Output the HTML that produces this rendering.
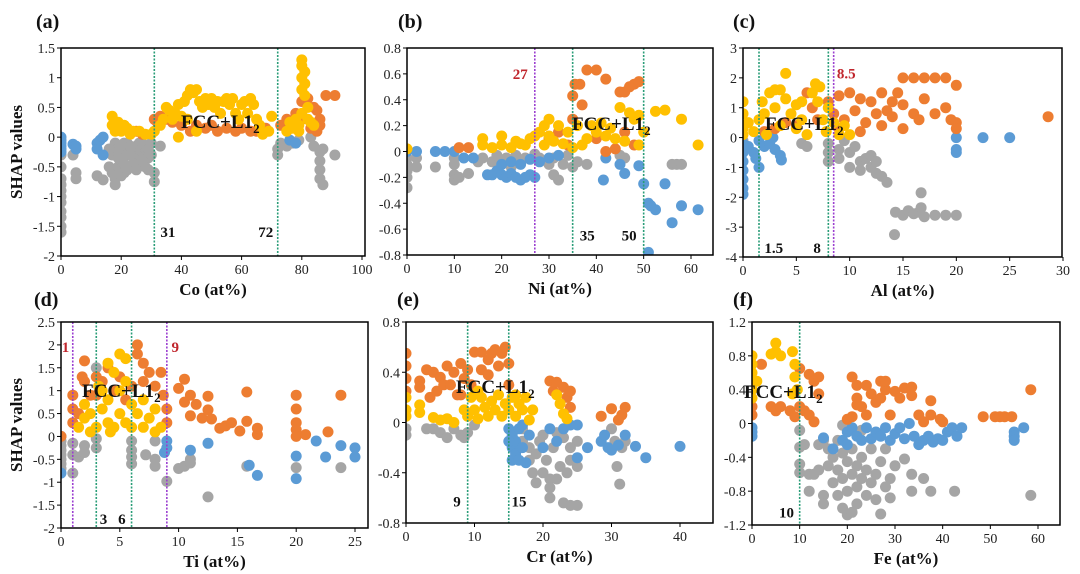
<!DOCTYPE html>
<html><head><meta charset="utf-8"><style>
html,body{margin:0;padding:0;background:#fff;}
svg{display:block;font-family:"Liberation Serif",serif;}
</style></head><body>
<svg id="fig" width="1080" height="574" viewBox="0 0 1080 574"></svg>
<script>
// ---------- data (x in at%, y = SHAP value) ----------
const aGray=[[0,-0.3],[0,-0.5],[0,-0.7],[0,-0.8],[0,-0.9],[0,-1.0],[0,-1.1],[0,-1.25],[0,-1.35],[0,-1.5],[0,-1.6],[4,-0.3],[5,-0.6],[5,-0.7],[12,-0.65],[14,-0.72],[16,-0.5],[17,-0.6],[18,-0.7],[18,-0.8],[19,-0.5],[20,-0.4],[20,-0.2],[21,-0.6],[22,-0.3],[22,-0.1],[23,-0.5],[24,-0.2],[25,-0.4],[26,-0.3],[26,-0.1],[27,-0.25],[28,-0.5],[28,-0.2],[29,-0.35],[30,-0.1],[30,-0.3],[31,-0.6],[31,-0.75],[33,-0.15],[17,-0.3],[18,-0.1],[19,-0.2],[21,-0.1],[23,-0.3],[24,-0.45],[25,-0.15],[27,-0.4],[29,-0.55],[20,-0.65],[22,-0.55],[16,-0.2],[19,-0.35],[21,-0.45],[23,-0.15],[25,-0.55],[27,-0.1],[29,-0.2],[72,-0.2],[72,-0.3],[73,-0.1],[75,-0.15],[77,-0.1],[79,-0.05],[84,-0.15],[86,-0.25],[87,-0.2],[86,-0.4],[86,-0.55],[86,-0.7],[87,-0.8],[91,-0.3],[83,0]];
const aBlue=[[0,0],[0,-0.05],[0,-0.1],[0,-0.15],[0,-0.2],[0,-0.25],[4,-0.12],[5,-0.15],[5,-0.2],[12,-0.1],[12,-0.2],[13,-0.05],[14,-0.3],[14,0],[76,-0.05],[78,-0.1]];
const aOrange=[[31,0.3],[32,0.25],[33,0.35],[35,0.3],[37,0.25],[40,0.2],[43,0.1],[45,0.2],[48,0.15],[50,0.2],[52,0.1],[55,0.15],[58,0.1],[60,0.15],[63,0.1],[65,0.1],[68,0.15],[27,0.05],[25,0.1],[73,0.2],[75,0.3],[78,0.4],[80,0.6],[82,0.65],[84,0.5],[85,0.45],[86,0.3],[86,0.2],[88,0.7],[91,0.7],[80,0.3],[83,0.15],[85,0.1]];
const aYellow=[[17,0.35],[17,0.2],[18,0.1],[19,0.25],[20,0.1],[21,0.2],[22,0.15],[23,0.05],[24,0.1],[26,0.1],[28,0.05],[30,0.05],[31,0.1],[33,0.2],[34,0.3],[35,0.5],[36,0.45],[37,0.3],[38,0.4],[39,0.55],[40,0.35],[41,0.6],[42,0.7],[43,0.8],[44,0.75],[45,0.8],[46,0.6],[47,0.5],[48,0.65],[49,0.55],[50,0.65],[51,0.5],[52,0.6],[53,0.4],[54,0.6],[55,0.65],[56,0.55],[57,0.65],[58,0.4],[59,0.3],[60,0.55],[61,0.6],[62,0.4],[63,0.65],[64,0.55],[65,0.3],[66,0.2],[67,0.05],[69,0.1],[70,0.35],[39,0],[42,0.3],[45,0.1],[75,0.1],[76,0.25],[77,0.15],[78,0.3],[79,0.2],[80,0.4],[80,0.8],[80,1.0],[80,1.2],[80,1.3],[81,1.1],[81,0.9],[81,0.7],[82,0.5],[82,0.3],[83,0.25],[84,0.2],[79,0.1]];
const aXTicks=[0,20,40,60,80,100];
const aYTicks=[1.5,1,0.5,0,-0.5,-1,-1.5,-2];

const bGray=[[0,-0.05],[0,-0.1],[0,-0.15],[0,-0.2],[0,-0.28],[2,-0.05],[2,-0.12],[6,-0.12],[10,-0.05],[10,-0.1],[10,-0.18],[10,-0.22],[11,-0.2],[13,-0.17],[15,-0.08],[16,-0.05],[18,-0.08],[19,-0.03],[20,-0.1],[21,-0.05],[22,-0.12],[23,-0.03],[24,-0.08],[25,-0.05],[27,-0.02],[28,-0.05],[30,-0.1],[31,-0.05],[31,-0.18],[32,-0.22],[33,-0.1],[34,-0.03],[35,-0.12],[36,-0.08],[38,-0.1],[45,-0.03],[46,-0.05],[56,-0.1],[57,-0.1],[58,-0.1]];
const bBlue=[[0,0],[2,0],[6,0],[8,0],[10,0],[12,-0.05],[14,-0.05],[17,-0.18],[18,-0.18],[19,-0.15],[20,-0.18],[21,-0.2],[22,-0.17],[23,-0.2],[24,-0.22],[25,-0.2],[26,-0.18],[27,-0.2],[20,-0.1],[22,-0.08],[24,-0.1],[26,-0.06],[28,-0.08],[30,-0.05],[32,-0.03],[42,-0.05],[41.5,-0.22],[45,-0.1],[46,-0.17],[49,-0.11],[50,-0.25],[51,-0.4],[51.5,-0.42],[52.5,-0.45],[54.5,-0.25],[56,-0.55],[58,-0.42],[61.5,-0.45],[51,-0.78]];
const bOrange=[[11,0.03],[13,0.03],[30,0.1],[32,0.15],[34,0.05],[35,0.25],[35,0.43],[35.5,0.52],[36.5,0.52],[37,0.36],[38,0.63],[40,0.63],[42,0.56],[45,0.46],[46,0.46],[47,0.5],[48,0.52],[49,0.54],[40,0.1],[42,0],[44,0.02],[48,0.05],[46,0.15]];
const bYellow=[[0,0.02],[16,0.1],[16,0.05],[18,0.03],[20,0.12],[20,0.05],[22,0.03],[23,0.08],[24,0.06],[25,0.05],[26,0.1],[27,0.12],[28,0.15],[29,0.2],[30,0.25],[30,0.12],[31,0.08],[32,0.2],[33,0.06],[35,0.03],[36,0.2],[37,0.05],[38,0.1],[39,0.2],[40,0.15],[41,0.22],[42,0.12],[43,0.18],[44,0.1],[45,0.34],[46,0.08],[47,0.3],[48,0.25],[49,0.28],[49,0.05],[50,0.15],[52.5,0.31],[54.5,0.32],[58,0.25],[61.5,0.05],[29,0.05],[34,0.15]];
const bXTicks=[0,10,20,30,40,50,60];
const bYTicks=[0.8,0.6,0.4,0.2,0,-0.2,-0.4,-0.6,-0.8];

const cGray=[[0,-0.1],[5.5,-0.2],[6,-0.3],[8,-0.2],[8,-0.5],[8,-0.8],[9,-0.4],[9.5,-0.1],[10,-0.5],[10,-1.0],[10.5,-0.3],[11,-0.8],[11,-1.1],[11.5,-0.7],[12,-1.0],[12,-0.6],[12.5,-1.2],[12.5,-0.8],[13,-1.3],[13.5,-1.5],[16.7,-1.85],[14.3,-2.5],[15,-2.6],[15.5,-2.45],[16,-2.55],[16.5,-2.5],[17,-2.65],[18,-2.6],[19,-2.6],[20,-2.6],[14.2,-3.25],[16.7,-2.35],[9,-0.7]];
const cBlue=[[0,-0.2],[0,-0.5],[0,-0.8],[0,-1.1],[0,-1.4],[0,-1.7],[0,-1.9],[0.5,-0.3],[1,-0.5],[1.2,-0.7],[1.5,-1.0],[1.5,-0.1],[2,-0.3],[2.5,-0.2],[3,-0.4],[3.5,-0.6],[3.6,-0.75],[2.8,0],[20,0],[20,-0.4],[20,-0.5],[22.5,0],[25,0]];
const cOrange=[[2,0.2],[3,0.3],[4,0.5],[5,0.4],[6,1.5],[6.5,1.0],[7,0.6],[8,1.2],[8.5,0.8],[9,1.4],[9.5,0.6],[10,1.5],[10.5,0.9],[11,1.3],[11.5,0.5],[12,1.2],[12.5,0.8],[13,1.5],[13.5,0.9],[14,1.2],[14.5,1.5],[14,0.7],[15,2.0],[15,1.1],[15,0.3],[16,2.0],[16,0.8],[17,2.0],[17,1.3],[16.5,0.6],[18,2.0],[18,0.8],[19,2.0],[19,1.0],[19.5,0.6],[20,1.75],[20,0.5],[20,0.3],[28.6,0.7],[9,0.3],[11,0.2],[13,0.4]];
const cYellow=[[0,1.2],[0,0.8],[0,0.3],[0,0.1],[0.5,0.5],[1,0.2],[1.5,0.6],[1.8,1.2],[2,0.8],[2.5,1.5],[3,1.0],[3,1.6],[3.5,1.6],[3.5,0.4],[4,2.15],[4,1.3],[4.5,0.8],[5,1.1],[5,0.3],[5.5,0.6],[6,0.1],[6.5,1.5],[6.8,1.8],[7,1.2],[7.2,1.7],[7.5,0.6],[7.8,0.2],[8,1.0],[8.5,0.5],[9,0.1],[9.5,0.4],[10,0.1],[5.5,1.2],[2.2,0.1]];
const cXTicks=[0,5,10,15,20,25,30];
const cYTicks=[3,2,1,0,-1,-2,-3,-4];

const dGray=[[0,0],[0,-0.1],[0,-0.2],[0,-0.3],[0,-0.4],[0,-0.5],[0,-0.6],[0,-0.7],[1,-0.15],[1,-0.4],[1.5,-0.45],[2,-0.2],[2,-0.35],[3,-0.05],[3,-0.25],[6,-0.1],[6,-0.3],[6,-0.45],[6,-0.6],[7.2,-0.4],[8,-0.1],[8,-0.5],[8,-0.65],[10,-0.7],[10.5,-0.65],[11,-0.5],[11,-0.58],[12.5,-1.32],[15.8,-0.65],[20,-0.68],[23.8,-0.68],[3,1.5],[1,-0.8],[9,-0.98]];
const dBlue=[[0,-0.8],[8.8,-0.35],[9,-0.1],[9,-0.25],[11,-0.3],[12.5,-0.15],[16,-0.63],[16.7,-0.85],[20,-0.43],[20,-0.92],[21.7,-0.1],[22.5,-0.45],[23.8,-0.2],[25,-0.25],[25,-0.45]];
const dOrange=[[1,0.3],[1,0.6],[1,0.9],[1.5,0.5],[2,1.65],[2,1.2],[2.5,0.9],[3,1.3],[3,0.9],[3.5,1.2],[4,1.5],[4.5,1.0],[5,1.3],[5.5,0.8],[6,1.1],[6.5,2.0],[6.5,1.8],[7,1.6],[7,1.2],[7.5,1.4],[8,1.1],[8.5,1.4],[8.7,0.9],[9,0.6],[9,0.3],[10,1.05],[10.5,1.25],[10.5,0.75],[11,0.9],[11,0.45],[11.5,0.7],[12,0.4],[12.5,0.88],[12.5,0.58],[12.8,0.38],[13.5,0.18],[14,0.23],[14.5,0.3],[15.2,0.12],[15.8,0.97],[15.8,0.33],[16.7,0.04],[16.7,0.18],[20,0.9],[20,0.6],[20,0.3],[20,0.15],[20,0],[20.8,0.04],[22.7,0.1],[23.8,0.9],[0,0],[1.8,1.3]];
const dYellow=[[1.5,0.2],[2,0.4],[2,0.7],[2.5,0.1],[2.5,0.5],[3,0.2],[3.5,0.6],[3.5,1.0],[4,0.3],[4,0.8],[4,1.6],[4.5,1.4],[4.5,0.2],[5,1.8],[5,1.0],[5,0.5],[5.5,1.7],[5.5,1.2],[5.5,0.3],[6,0.7],[6,0.2],[6.5,0.5],[7,0.8],[7,0.2],[7.5,0.4],[8,0.1],[8,0.6],[8.5,0.2],[3.2,1.1],[4.2,0.1]];
const dXTicks=[0,5,10,15,20,25];
const dYTicks=[2.5,2,1.5,1,0.5,0,-0.5,-1,-1.5,-2];

const eGray=[[0,-0.05],[0,-0.1],[3,-0.05],[4,-0.05],[5,-0.08],[6,-0.12],[7,-0.05],[8,-0.1],[8.5,-0.12],[9,-0.08],[10,-0.02],[17,-0.05],[17,-0.15],[18,-0.2],[18,-0.3],[18.5,-0.4],[19,-0.48],[19,-0.25],[20,-0.1],[20,-0.4],[20.5,-0.3],[21,-0.45],[21,-0.52],[21,-0.6],[21.5,-0.2],[22,-0.08],[22,-0.45],[22.5,-0.35],[23,-0.12],[23,-0.64],[23.5,-0.4],[24,-0.66],[24,-0.3],[25,-0.66],[25,-0.35],[25,-0.15],[30,-0.05],[30.5,-0.15],[30.8,-0.35],[31.2,-0.49],[31.5,-0.2],[32,-0.15],[19.5,-0.15],[24,-0.2]];
const eBlue=[[15,-0.05],[15.5,-0.1],[15.5,-0.2],[15.5,-0.3],[16,-0.15],[16,-0.25],[16.5,-0.05],[16.5,-0.3],[17,-0.2],[17.5,-0.32],[18,-0.1],[17,-0.02],[20,-0.2],[21,-0.05],[22,-0.15],[23,-0.05],[24,-0.02],[25,-0.02],[25,-0.28],[26.5,-0.2],[28.5,-0.15],[29,-0.1],[29.5,-0.2],[30,-0.22],[31,-0.18],[32,-0.1],[33.5,-0.19],[35,-0.28],[40,-0.19],[15,-0.15]];
const eOrange=[[0,0.55],[0,0.45],[0,0.35],[0,0.25],[2,0.33],[2,0.28],[3,0.42],[3.5,0.2],[4,0.4],[4.5,0.25],[5,0.36],[5.5,0.3],[6,0.45],[6.5,0.3],[7,0.4],[7.5,0.22],[8,0.47],[8.5,0.35],[9,0.42],[9.5,0.3],[10,0.56],[11,0.56],[11,0.42],[12,0.5],[12,0.38],[12.5,0.55],[13,0.58],[13.5,0.45],[14,0.55],[14.5,0.6],[15,0.47],[15,0.3],[21,0.33],[21.5,0.25],[22,0.32],[23,0.28],[23.5,0.2],[24,0.12],[24,0.25],[28.5,0.05],[30,0.11],[31,0.02],[31.5,0.06],[32,0.12],[8,0.22]];
const eYellow=[[0,0.2],[0,0.1],[0,0.05],[2,0.14],[2,0.08],[4,0.04],[5,0.02],[6,0.03],[7,0.0],[8.5,0.1],[9,0.05],[9.5,0.2],[10,0.1],[10.5,0.03],[11,0.2],[11.5,0.12],[12,0.05],[12.5,0.17],[13,0.1],[13.5,0.22],[14,0.05],[14.5,0.15],[15,0.1],[15.5,0.2],[16,0.05],[16.5,0.15],[17,0.1],[17.5,0.2],[18,0.02],[18.5,0.1],[22,0.22],[22.5,0.15],[23,0.07],[23.5,0.03],[16,0.22],[10.5,0.25]];
const eXTicks=[0,10,20,30,40];
const eYTicks=[0.8,0.4,0,-0.4,-0.8];

const fGray=[[10,-0.08],[10,-0.28],[10,-0.48],[10,-0.58],[11,-0.25],[12,-0.6],[12,-0.8],[13,-0.6],[14,-0.25],[14,-0.55],[15,-0.85],[15,-0.95],[16,-0.3],[16,-0.5],[17,-0.4],[17,-0.7],[18,-0.2],[18,-0.55],[18,-0.85],[19,-0.02],[19,-0.35],[19,-0.65],[19,-1.0],[20,-0.45],[20,-0.8],[20,-1.08],[21,-0.3],[21,-0.6],[21,-1.05],[22,-0.5],[22,-0.75],[22,-0.95],[23,-0.08],[23,-0.4],[23,-0.65],[24,-0.55],[24,-0.85],[25,-0.3],[25,-0.7],[26,-0.6],[26,-0.9],[27,-0.45],[27,-1.07],[28,-0.75],[28,-0.3],[29,-0.65],[29,-0.88],[30,-0.5],[32,-0.42],[33.5,-0.6],[33.5,-0.8],[36,-0.65],[37.5,-0.8],[42.5,-0.8],[58.5,-0.85],[15,-0.2]];
const fBlue=[[0,-0.05],[0,-0.1],[0,-0.15],[15,-0.17],[17,-0.3],[19,-0.2],[20,-0.1],[20,-0.25],[21,-0.05],[22,-0.15],[23,-0.2],[24,-0.05],[25,-0.18],[26,-0.1],[27,-0.15],[28,-0.05],[29,-0.2],[30,-0.12],[31,-0.05],[32,-0.18],[33,0],[34,-0.15],[35,-0.25],[36,-0.2],[37,-0.15],[38,-0.22],[39,-0.18],[40,-0.2],[41,-0.1],[42,-0.05],[43,-0.15],[44,-0.05],[55,-0.1],[55,-0.15],[55,-0.2],[57,-0.05]];
const fOrange=[[0,0.1],[0,0.2],[2,0.7],[4,0.2],[5,0.15],[6,0.2],[8,0.15],[9,0.08],[10,0.2],[10,0.65],[11,0.15],[12,0.58],[12,0.1],[13,0.5],[13,0.02],[14,0.55],[14,0.35],[20,0.05],[21,0.08],[21,0.55],[22,0.45],[22,0.3],[23,0.2],[24,0.45],[24,0.1],[25,0.35],[26,0.25],[27,0.5],[27,0.3],[28,0.4],[28,0.5],[29,0.1],[30,0.38],[31,0.3],[32,0.42],[33.5,0.43],[33.5,0.33],[35,0.1],[36,0.02],[37.5,0.27],[37.5,0.1],[39.5,0.05],[40,0.02],[48.5,0.08],[51,0.08],[52,0.08],[53,0.08],[54.5,0.08],[58.5,0.4],[22,0.22]];
const fYellow=[[0,0.8],[0,0.7],[0,0.6],[0,0.5],[0,0.4],[0,0.3],[5,0.95],[4,0.82],[5,0.85],[6,0.8],[8.5,0.85],[9,0.7],[9,0.55],[9.5,0.4],[8.5,0.35],[1,0.5]];
const fXTicks=[0,10,20,30,40,50,60];
const fYTicks=[1.2,0.8,0.4,0,-0.4,-0.8,-1.2];

// ---------- layout ----------
const NS='http://www.w3.org/2000/svg';
const svg=document.getElementById('fig');
function mk(tag,attrs,parent){const e=document.createElementNS(NS,tag);for(const k in attrs)e.setAttribute(k,attrs[k]);(parent||svg).appendChild(e);return e;}
const COL={gray:'#a5a5a5',blue:'#5b9bd5',orange:'#ed7d31',yellow:'#ffc000'};
const GREEN='#2a9d78',PURPLE='#9b3fd0',RED='#c0262d';

const panels=[
 {id:'a',L:61,R:365,T:48,B:256,x0:0,x1:100,px1:362,y0:-2,y1:1.5,xt:aXTicks,yt:aYTicks,s:[aGray,aBlue,aOrange,aYellow],xl:'Co (at%)',yl:true,lab:[36,28],
  lines:[[31,GREEN],[72,GREEN]],notes:[['31',33,-1.6,'start','#111'],['72',70.5,-1.6,'end','#111']],fcc:[181,128]},
 {id:'b',L:407,R:713,T:48,B:255,x0:0,x1:60,px1:691,y0:-0.8,y1:0.8,xt:bXTicks,yt:bYTicks,s:[bGray,bBlue,bOrange,bYellow],xl:'Ni (at%)',lab:[398,28],
  lines:[[27,PURPLE],[35,GREEN],[50,GREEN]],notes:[['27',25.5,0.6,'end',RED],['35',36.5,-0.65,'start','#111'],['50',48.5,-0.65,'end','#111']],fcc:[572,130]},
 {id:'c',L:743,R:1062,T:48,B:257,x0:0,x1:30,px1:1063,y0:-4,y1:3,xt:cXTicks,yt:cYTicks,s:[cGray,cBlue,cOrange,cYellow],xl:'Al (at%)',lab:[733,28],
  lines:[[1.5,GREEN],[8,GREEN],[8.5,PURPLE]],notes:[['1.5',2,-3.7,'start','#111'],['8',7.3,-3.7,'end','#111'],['8.5',8.8,2.15,'start',RED]],fcc:[765,130]},
 {id:'d',L:61,R:368,T:322,B:528,x0:0,x1:25,px1:355,y0:-2,y1:2.5,xt:dXTicks,yt:dYTicks,s:[dGray,dBlue,dOrange,dYellow],xl:'Ti (at%)',yl:true,lab:[34,306],
  lines:[[1,PURPLE],[3,GREEN],[6,GREEN],[9,PURPLE]],notes:[['1',0.7,1.95,'end',RED],['9',9.4,1.95,'start',RED],['3',3.3,-1.8,'start','#111'],['6',5.5,-1.8,'end','#111']],fcc:[82,397]},
 {id:'e',L:406,R:713,T:322,B:523,x0:0,x1:40,px1:680,y0:-0.8,y1:0.8,xt:eXTicks,yt:eYTicks,s:[eGray,eBlue,eOrange,eYellow],xl:'Cr (at%)',lab:[397,306],
  lines:[[9,GREEN],[15,GREEN]],notes:[['9',8,-0.63,'end','#111'],['15',15.4,-0.63,'start','#111']],fcc:[456,393]},
 {id:'f',L:752,R:1060,T:322,B:525,x0:0,x1:60,px1:1038,y0:-1.2,y1:1.2,xt:fXTicks,yt:fYTicks,s:[fGray,fBlue,fOrange,fYellow],xl:'Fe (at%)',lab:[733,306],
  lines:[[10,GREEN]],notes:[['10',8.8,-1.05,'end','#111']],fcc:[744,398]}
];
const names=['gray','blue','orange','yellow'];

panels.forEach(p=>{
  const X=v=>p.L+(v-p.x0)/(p.x1-p.x0)*(p.px1-p.L);
  const Y=v=>p.B-(v-p.y0)/(p.y1-p.y0)*(p.B-p.T);
  const g=mk('g',{});
  
  
  const cp=mk('clipPath',{id:'clip'+p.id},g);
  mk('rect',{x:p.L,y:p.T,width:p.R-p.L,height:p.B-p.T},cp);
  const pts=mk('g',{'clip-path':'url(#clip'+p.id+')'},g);
  
  
  p.s.forEach((arr,si)=>{
    arr.forEach(d=>{
      const c=mk('circle',{cx:X(d[0]).toFixed(1),cy:Y(d[1]).toFixed(1),r:5.5,fill:COL[names[si]]},pts);
      
      
    });
  });
  p.lines.forEach(l=>{
    const ln=mk('line',{x1:X(l[0]),x2:X(l[0]),y1:p.T,y2:p.B,stroke:l[1],'stroke-width':1.6,'stroke-dasharray':'2,1.5'},g);
    
    
  });
  const fr=mk('rect',{x:p.L,y:p.T,width:p.R-p.L,height:p.B-p.T,fill:'none',stroke:'#000','stroke-width':1.5},g);
  
  
  p.xt.forEach(v=>{
    mk('line',{x1:X(v),x2:X(v),y1:p.B,y2:p.B+4,stroke:'#000','stroke-width':1},g);
    const t=mk('text',{x:X(v),y:p.B+18,'text-anchor':'middle','font-size':14,fill:'#222'},g);
    t.textContent=v;
    
    
  });
  p.yt.forEach(v=>{
    mk('line',{x1:p.L-4,x2:p.L,y1:Y(v),y2:Y(v),stroke:'#000','stroke-width':1},g);
    const t=mk('text',{x:p.L-6,y:Y(v)+5,'text-anchor':'end','font-size':14,fill:'#222'},g);
    t.textContent=v;
    
    
  });
  p.notes.forEach(n=>{
    const t=mk('text',{x:X(n[1]),y:Y(n[2])+5,'text-anchor':n[3],'font-size':15,'font-weight':'bold',fill:n[4]},g);
    t.textContent=n[0];
    
    
  });
  const f=mk('text',{x:p.fcc[0],y:p.fcc[1],'font-size':19,'font-weight':'bold',fill:'#111'},g);
  f.innerHTML='FCC+L1<tspan font-size="13" dy="5">2</tspan>';
  
  
  const xt=mk('text',{x:(p.L+p.R)/2,y:p.B+39,'text-anchor':'middle','font-size':17,'font-weight':'bold',fill:'#111'},g);
  xt.textContent=p.xl;
  
  
  if(p.yl){
    const yt=mk('text',{x:0,y:0,'text-anchor':'middle','font-size':17,'font-weight':'bold',fill:'#111',transform:'translate(22,'+((p.T+p.B)/2)+') rotate(-90)'},g);
    yt.textContent='SHAP values';
    
    
  }
  const lb=mk('text',{x:p.lab[0],y:p.lab[1],'font-size':20,'font-weight':'bold',fill:'#111'},g);
  lb.textContent='('+p.id+')';
  
  
});
</script>
</body></html>
